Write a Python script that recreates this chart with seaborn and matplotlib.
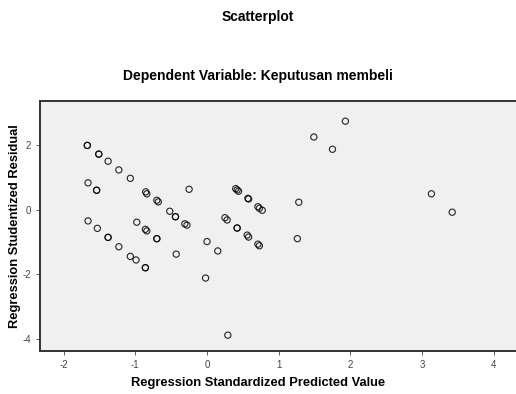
import numpy as np
import pandas as pd
import matplotlib
matplotlib.use("Agg")
import matplotlib.pyplot as plt
import seaborn as sns

# Values (duplicates for the bolder circles)
predicted = [
    -1.67, -1.67, -1.51, -1.51, -1.38, -1.23, -1.07, -1.66, -1.54, -1.54,
    -0.855, -0.84, -0.70, -0.68, -0.52, -0.44, -0.44, -0.31, -0.28, -0.25,
    -1.66, -1.53, -1.38, -1.38, -1.23, -1.07, -0.99, -0.86, -0.86,
    -0.98, -0.86, -0.84, -0.70, -0.70, -0.43, 0.0, 0.15, -0.02, 0.29,
    0.25, 0.28, 0.42, 0.42, 0.56, 0.58, 0.71, 0.73, 1.26,
    0.40, 0.42, 0.44, 0.57, 0.58, 0.71, 0.73, 0.77, 1.28,
    1.49, 1.75, 1.93, 3.13, 3.42,
]
residual = [
    2.0, 2.0, 1.73, 1.73, 1.51, 1.24, 0.98, 0.84, 0.61, 0.61,
    0.56, 0.50, 0.30, 0.25, -0.04, -0.21, -0.21, -0.43, -0.47, 0.64,
    -0.34, -0.57, -0.85, -0.85, -1.14, -1.44, -1.55, -1.79, -1.79,
    -0.38, -0.60, -0.65, -0.89, -0.89, -1.37, -0.98, -1.27, -2.11, -3.88,
    -0.24, -0.31, -0.56, -0.56, -0.78, -0.84, -1.06, -1.11, -0.89,
    0.66, 0.62, 0.58, 0.36, 0.34, 0.10, 0.05, -0.01, 0.24,
    2.26, 1.88, 2.75, 0.50, -0.07,
]
x_ticks = [-2, -1, 0, 1, 2, 3, 4]
y_ticks = [-4, -2, 0, 2]

df = pd.DataFrame({"pred": predicted, "resid": residual})

sns.set_style("white")
plt.rcParams["font.family"] = ["Liberation Sans", "DejaVu Sans"]
plt.rcParams["axes.unicode_minus"] = False
plt.rcParams["text.color"] = "black"
plt.rcParams["axes.labelcolor"] = "black"

fig = plt.figure(figsize=(5.16, 3.94), dpi=100)
ax = fig.add_axes([0.0775, 0.110, 0.9225, 0.634])
ax.set_facecolor("#f0f0f0")

sns.scatterplot(data=df, x="pred", y="resid", ax=ax, marker="o", s=20,
                facecolor="none", edgecolor="black", linewidth=0.8, alpha=0.85)

ax.set_xlim(-2.33, 4.31)
ax.set_ylim(-4.36, 3.38)
ax.set_xticks(x_ticks)
ax.set_yticks(y_ticks)
ax.tick_params(axis="both", labelsize=7, labelcolor="#444444", length=3,
               width=0.6, color="#444444", direction="out", bottom=True, left=True)

for side in ["left", "bottom", "top"]:
    ax.spines[side].set_color("#333333")
    ax.spines[side].set_linewidth(1.4)
ax.spines["right"].set_visible(False)

ax.set_xlabel("Regression Standardized Predicted Value", fontsize=9.3,
              fontweight="bold")
ax.set_ylabel("Regression Studentized Residual", fontsize=9.3,
              fontweight="bold")
# place axis labels where the reference has them (pixels from the figure)
ax.xaxis.set_label_coords((258 - 40) / 476, -(383 - 350.7) / 250)
ax.yaxis.set_label_coords(-(40 - 15) / 476, 0.5)
ax.xaxis.label.set_va("center")
ax.yaxis.label.set_va("center")

fig.text(0.5, 1 - 17 / 394, "Scatterplot", ha="center", va="center",
         fontsize=10, fontweight="bold")
fig.text(0.5, 1 - 76 / 394, "Dependent Variable: Keputusan membeli",
         ha="center", va="center", fontsize=10, fontweight="bold")

fig.savefig("out.png", dpi=100)
